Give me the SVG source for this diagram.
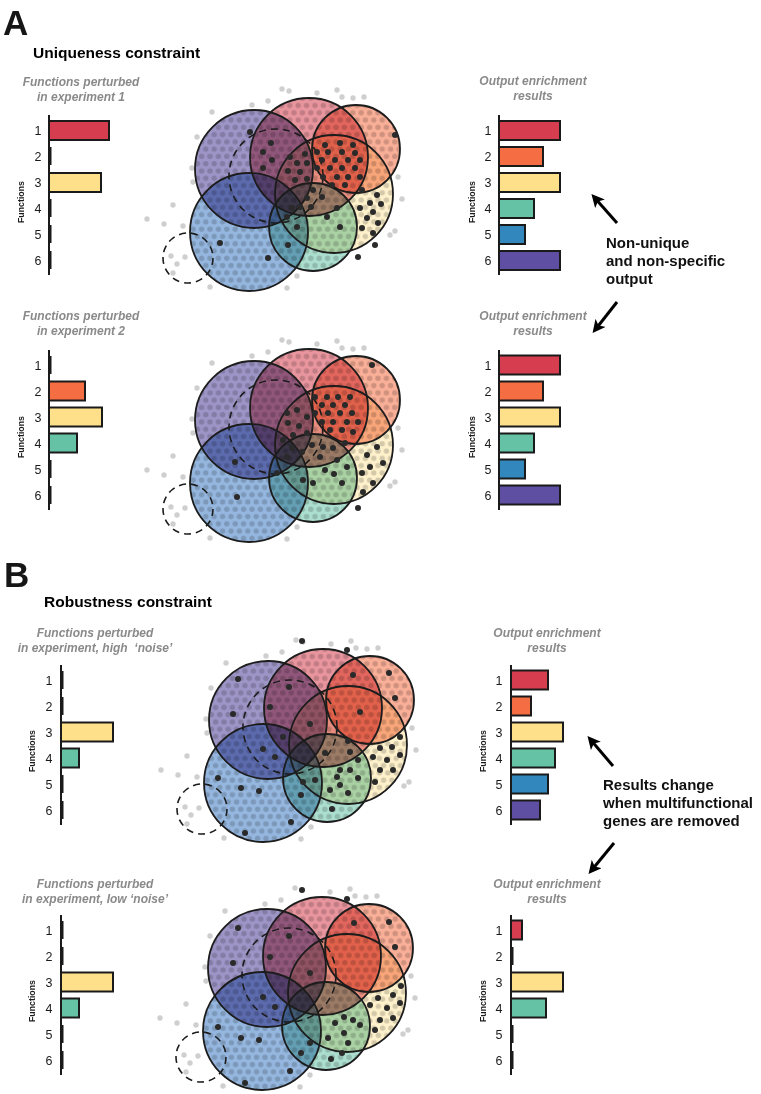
<svg xmlns="http://www.w3.org/2000/svg" xmlns:xlink="http://www.w3.org/1999/xlink" width="761" height="1094" viewBox="0 0 761 1094">
<defs>
<style>
text{font-family:"Liberation Sans",Arial,sans-serif}
.sub{font-size:12px;font-weight:bold;font-style:italic;fill:#8a8a8a;text-anchor:middle}
.num{font-size:12.5px;fill:#1a1a1a;text-anchor:middle}
.fn{font-size:8.8px;font-weight:bold;text-anchor:middle;fill:#1a1a1a}
.hd{font-size:15.5px;font-weight:bold;fill:#000}
.big{font-size:35px;font-weight:bold;fill:#161616}
.ann{font-size:15px;font-weight:bold;fill:#111}
.ax{stroke:#1a1a1a;stroke-width:2}
.bar{stroke:#1a1a1a;stroke-width:2}
.stub{fill:#1a1a1a}
.f1{fill:#d63e50}.f2{fill:#f46d43}.f3{fill:#fee08b}.f4{fill:#66c2a5}.f5{fill:#3288bd}.f6{fill:#5e4fa2}
.vc{mix-blend-mode:multiply}
.out circle{fill:#cfcfcf}
.dk circle{fill:#2a2a2a}
.ol{fill:none;stroke:#1c1c1c;stroke-width:1.8}
.da{fill:none;stroke:#1c1c1c;stroke-width:1.6;stroke-dasharray:7 5}
.arr{stroke:#000;stroke-width:3;fill:none}
</style>
<pattern id="grid" width="8.4" height="14.55" patternUnits="userSpaceOnUse">
<circle cx="4.2" cy="3.6" r="2.7" fill="#000" fill-opacity="0.17"/>
<circle cx="0" cy="10.9" r="2.7" fill="#000" fill-opacity="0.17"/>
<circle cx="8.4" cy="10.9" r="2.7" fill="#000" fill-opacity="0.17"/>
</pattern>
<clipPath id="vclip">
<circle cx="254" cy="169" r="59"/><circle cx="309" cy="157" r="59"/><circle cx="356" cy="149" r="44"/>
<circle cx="334" cy="194" r="59"/><circle cx="249" cy="232" r="59"/><circle cx="313" cy="227" r="44"/>
</clipPath>
<marker id="ah" viewBox="0 0 10 10" refX="7" refY="5" markerWidth="13" markerHeight="13" markerUnits="userSpaceOnUse" orient="auto">
<path d="M0,0 L10,5 L0,10 L2.5,5 z" fill="#000"/>
</marker>
<g id="venn-base">
<g class="out">
<circle cx="282" cy="89" r="2.7"/><circle cx="289" cy="91" r="2.7"/><circle cx="317" cy="93" r="2.7"/><circle cx="337" cy="90" r="2.7"/><circle cx="342" cy="97" r="2.7"/><circle cx="353" cy="98" r="2.7"/><circle cx="364" cy="97" r="2.7"/><circle cx="268" cy="101" r="2.7"/><circle cx="252" cy="105" r="2.7"/><circle cx="212" cy="112" r="2.7"/><circle cx="197" cy="137" r="2.7"/><circle cx="192" cy="168" r="2.7"/><circle cx="193" cy="182" r="2.7"/><circle cx="173" cy="205" r="2.7"/><circle cx="147" cy="219" r="2.7"/><circle cx="164" cy="224" r="2.7"/><circle cx="183" cy="226" r="2.7"/><circle cx="171" cy="256" r="2.7"/><circle cx="177" cy="264" r="2.7"/><circle cx="185" cy="257" r="2.7"/><circle cx="173" cy="273" r="2.7"/><circle cx="210" cy="287" r="2.7"/><circle cx="287" cy="288" r="2.7"/><circle cx="297" cy="276" r="2.7"/><circle cx="390" cy="235" r="2.7"/><circle cx="395" cy="231" r="2.7"/><circle cx="402" cy="199" r="2.7"/><circle cx="398" cy="177" r="2.7"/>
</g>
<circle class="vc" cx="254" cy="169" r="59" fill="#9e95c7"/>
<circle class="vc" cx="309" cy="157" r="59" fill="#e8959e"/>
<circle class="vc" cx="356" cy="149" r="44" fill="#f9af98"/>
<circle class="vc" cx="334" cy="194" r="59" fill="#fef1cb"/>
<circle class="vc" cx="249" cy="232" r="59" fill="#95b7df"/>
<circle class="vc" cx="313" cy="227" r="44" fill="#abdece"/>
<rect x="180" y="90" width="230" height="210" fill="url(#grid)" clip-path="url(#vclip)"/>
<circle class="da" cx="276" cy="176" r="47"/>
<circle class="da" cx="188" cy="258" r="25"/>
<circle class="ol" cx="254" cy="169" r="59"/>
<circle class="ol" cx="309" cy="157" r="59"/>
<circle class="ol" cx="356" cy="149" r="44"/>
<circle class="ol" cx="334" cy="194" r="59"/>
<circle class="ol" cx="249" cy="232" r="59"/>
<circle class="ol" cx="313" cy="227" r="44"/>
</g>
</defs>
<rect width="761" height="1094" fill="#fff"/>

<g id="panel-a-labels">
<text class="big" x="3" y="35">A</text>
<text class="hd" x="33" y="58">Uniqueness constraint</text>
</g>

<!-- A experiment 1: input chart -->
<g id="a1-input">
<text class="sub" x="81" y="86">Functions perturbed</text>
<text class="sub" x="81" y="101">in experiment 1</text>
<text class="fn" transform="translate(24,202) rotate(-90)">Functions</text>
<text class="num" x="38" y="135">1</text><text class="num" x="38" y="161">2</text><text class="num" x="38" y="187">3</text><text class="num" x="38" y="213">4</text><text class="num" x="38" y="239">5</text><text class="num" x="38" y="265">6</text>
<rect class="bar f1" x="49" y="121" width="60" height="19"/>
<rect class="stub" x="49" y="147" width="2.5" height="18"/>
<rect class="bar f3" x="49" y="173" width="52" height="19"/>
<rect class="stub" x="49" y="199" width="2.5" height="18"/>
<rect class="stub" x="49" y="225" width="2.5" height="18"/>
<rect class="stub" x="49" y="251" width="2.5" height="18"/>
<line class="ax" x1="49" y1="115" x2="49" y2="275"/>
</g>

<g id="a1-venn">
<use xlink:href="#venn-base" href="#venn-base"/>
<g class="dk">
<circle cx="250" cy="132" r="3"/><circle cx="395" cy="135" r="3"/><circle cx="271" cy="143" r="3"/><circle cx="263" cy="152" r="3"/><circle cx="272" cy="160" r="3"/><circle cx="263" cy="168" r="3"/><circle cx="325" cy="145" r="3"/><circle cx="340" cy="143" r="3"/><circle cx="353" cy="145" r="3"/><circle cx="317" cy="152" r="3"/><circle cx="328" cy="152" r="3"/><circle cx="342" cy="152" r="3"/><circle cx="355" cy="153" r="3"/><circle cx="322" cy="160" r="3"/><circle cx="335" cy="160" r="3"/><circle cx="348" cy="160" r="3"/><circle cx="360" cy="160" r="3"/><circle cx="317" cy="168" r="3"/><circle cx="330" cy="168" r="3"/><circle cx="342" cy="168" r="3"/><circle cx="355" cy="168" r="3"/><circle cx="323" cy="177" r="3"/><circle cx="337" cy="177" r="3"/><circle cx="348" cy="177" r="3"/><circle cx="360" cy="177" r="3"/><circle cx="332" cy="185" r="3"/><circle cx="345" cy="185" r="3"/><circle cx="290" cy="157" r="3"/><circle cx="305" cy="154" r="3"/><circle cx="297" cy="163" r="3"/><circle cx="307" cy="163" r="3"/><circle cx="288" cy="171" r="3"/><circle cx="300" cy="172" r="3"/><circle cx="307" cy="179" r="3"/><circle cx="295" cy="180" r="3"/><circle cx="313" cy="190" r="3"/><circle cx="322" cy="197" r="3"/><circle cx="307" cy="198" r="3"/><circle cx="300" cy="207" r="3"/><circle cx="311" cy="207" r="3"/><circle cx="292" cy="208" r="3"/><circle cx="362" cy="190" r="3"/><circle cx="377" cy="195" r="3"/><circle cx="370" cy="203" r="3"/><circle cx="381" cy="204" r="3"/><circle cx="360" cy="208" r="3"/><circle cx="373" cy="212" r="3"/><circle cx="367" cy="218" r="3"/><circle cx="378" cy="223" r="3"/><circle cx="362" cy="228" r="3"/><circle cx="373" cy="233" r="3"/><circle cx="375" cy="245" r="3"/><circle cx="358" cy="257" r="3"/><circle cx="337" cy="208" r="3"/><circle cx="327" cy="217" r="3"/><circle cx="340" cy="227" r="3"/><circle cx="287" cy="217" r="3"/><circle cx="297" cy="227" r="3"/><circle cx="288" cy="245" r="3"/><circle cx="220" cy="243" r="3"/><circle cx="268" cy="258" r="3"/>
</g>
</g>

<!-- A experiment 1: output chart -->
<g id="a1-output">
<text class="sub" x="533" y="85">Output enrichment</text>
<text class="sub" x="533" y="100">results</text>
<text class="fn" transform="translate(475,202) rotate(-90)">Functions</text>
<text class="num" x="488" y="135">1</text><text class="num" x="488" y="161">2</text><text class="num" x="488" y="187">3</text><text class="num" x="488" y="213">4</text><text class="num" x="488" y="239">5</text><text class="num" x="488" y="265">6</text>
<rect class="bar f1" x="499" y="121" width="61" height="19"/>
<rect class="bar f2" x="499" y="147" width="44" height="19"/>
<rect class="bar f3" x="499" y="173" width="61" height="19"/>
<rect class="bar f4" x="499" y="199" width="35" height="19"/>
<rect class="bar f5" x="499" y="225" width="26" height="19"/>
<rect class="bar f6" x="499" y="251" width="61" height="19"/>
<line class="ax" x1="499" y1="115" x2="499" y2="275"/>
</g>

<g id="a-note">
<text class="ann" x="606" y="248">Non-unique</text>
<text class="ann" x="606" y="266">and non-specific</text>
<text class="ann" x="606" y="284">output</text>
</g>

<!-- A experiment 2 -->
<g id="a2-input">
<text class="sub" x="81" y="320">Functions perturbed</text>
<text class="sub" x="81" y="335">in experiment 2</text>
<text class="fn" transform="translate(24,437) rotate(-90)">Functions</text>
<text class="num" x="38" y="370">1</text><text class="num" x="38" y="396">2</text><text class="num" x="38" y="422">3</text><text class="num" x="38" y="448">4</text><text class="num" x="38" y="474">5</text><text class="num" x="38" y="500">6</text>
<rect class="stub" x="49" y="356" width="2.5" height="18"/>
<rect class="bar f2" x="49" y="381.5" width="36" height="19"/>
<rect class="bar f3" x="49" y="407.5" width="53" height="19"/>
<rect class="bar f4" x="49" y="433.5" width="28" height="19"/>
<rect class="stub" x="49" y="460" width="2.5" height="18"/>
<rect class="stub" x="49" y="486" width="2.5" height="18"/>
<line class="ax" x1="49" y1="350" x2="49" y2="510"/>
</g>

<g id="a2-venn" transform="translate(0,251)">
<use xlink:href="#venn-base" href="#venn-base"/>
<g class="dk">
<circle cx="372" cy="114" r="3"/><circle cx="315" cy="146" r="3"/><circle cx="327" cy="146" r="3"/><circle cx="338" cy="146" r="3"/><circle cx="350" cy="146" r="3"/><circle cx="322" cy="154" r="3"/><circle cx="333" cy="154" r="3"/><circle cx="345" cy="154" r="3"/><circle cx="315" cy="162" r="3"/><circle cx="328" cy="162" r="3"/><circle cx="340" cy="162" r="3"/><circle cx="352" cy="162" r="3"/><circle cx="322" cy="171" r="3"/><circle cx="333" cy="171" r="3"/><circle cx="347" cy="171" r="3"/><circle cx="358" cy="171" r="3"/><circle cx="330" cy="179" r="3"/><circle cx="342" cy="179" r="3"/><circle cx="353" cy="181" r="3"/><circle cx="287" cy="162" r="3"/><circle cx="297" cy="159" r="3"/><circle cx="307" cy="166" r="3"/><circle cx="288" cy="172" r="3"/><circle cx="299" cy="175" r="3"/><circle cx="307" cy="182" r="3"/><circle cx="293" cy="184" r="3"/><circle cx="283" cy="189" r="3"/><circle cx="292" cy="197" r="3"/><circle cx="302" cy="201" r="3"/><circle cx="312" cy="194" r="3"/><circle cx="287" cy="206" r="3"/><circle cx="323" cy="196" r="3"/><circle cx="333" cy="197" r="3"/><circle cx="345" cy="192" r="3"/><circle cx="320" cy="206" r="3"/><circle cx="337" cy="209" r="3"/><circle cx="347" cy="216" r="3"/><circle cx="325" cy="219" r="3"/><circle cx="334" cy="223" r="3"/><circle cx="342" cy="232" r="3"/><circle cx="313" cy="232" r="3"/><circle cx="303" cy="229" r="3"/><circle cx="377" cy="196" r="3"/><circle cx="367" cy="204" r="3"/><circle cx="383" cy="212" r="3"/><circle cx="370" cy="216" r="3"/><circle cx="362" cy="222" r="3"/><circle cx="373" cy="232" r="3"/><circle cx="363" cy="241" r="3"/><circle cx="358" cy="257" r="3"/><circle cx="237" cy="246" r="3"/><circle cx="235" cy="211" r="3"/><circle cx="277" cy="222" r="3"/>
</g>
</g>

<g id="a2-output">
<text class="sub" x="533" y="320">Output enrichment</text>
<text class="sub" x="533" y="335">results</text>
<text class="fn" transform="translate(475,437) rotate(-90)">Functions</text>
<text class="num" x="488" y="370">1</text><text class="num" x="488" y="396">2</text><text class="num" x="488" y="422">3</text><text class="num" x="488" y="448">4</text><text class="num" x="488" y="474">5</text><text class="num" x="488" y="500">6</text>
<rect class="bar f1" x="499" y="355.5" width="61" height="19"/>
<rect class="bar f2" x="499" y="381.5" width="44" height="19"/>
<rect class="bar f3" x="499" y="407.5" width="61" height="19"/>
<rect class="bar f4" x="499" y="433.5" width="35" height="19"/>
<rect class="bar f5" x="499" y="459.5" width="26" height="19"/>
<rect class="bar f6" x="499" y="485.5" width="61" height="19"/>
<line class="ax" x1="499" y1="350" x2="499" y2="510"/>
</g>

<!-- Panel B -->
<g id="panel-b-labels">
<text class="big" x="4" y="587">B</text>
<text class="hd" x="44" y="607">Robustness constraint</text>
</g>

<g id="b1-input">
<text class="sub" x="95" y="637">Functions perturbed</text>
<text class="sub" x="95" y="652" style="white-space:pre">in experiment, high  ‘noise’</text>
<text class="fn" transform="translate(35,751) rotate(-90)">Functions</text>
<text class="num" x="49" y="685">1</text><text class="num" x="49" y="711">2</text><text class="num" x="49" y="737">3</text><text class="num" x="49" y="763">4</text><text class="num" x="49" y="789">5</text><text class="num" x="49" y="815">6</text>
<rect class="stub" x="61" y="671" width="2.5" height="18"/>
<rect class="stub" x="61" y="697" width="2.5" height="18"/>
<rect class="bar f3" x="61" y="722.5" width="52" height="19"/>
<rect class="bar f4" x="61" y="748.5" width="18" height="19"/>
<rect class="stub" x="61" y="775" width="2.5" height="18"/>
<rect class="stub" x="61" y="801" width="2.5" height="18"/>
<line class="ax" x1="61" y1="665" x2="61" y2="825"/>
</g>

<g id="b1-venn" transform="translate(14,551)">
<use xlink:href="#venn-base" href="#venn-base"/>
<g class="dk">
<circle cx="288" cy="90" r="3"/><circle cx="333" cy="99" r="3"/><circle cx="224" cy="128" r="3"/><circle cx="219" cy="163" r="3"/><circle cx="275" cy="136" r="3"/><circle cx="256" cy="156" r="3"/><circle cx="269" cy="186" r="3"/><circle cx="261" cy="206" r="3"/><circle cx="249" cy="198" r="3"/><circle cx="296" cy="173" r="3"/><circle cx="339" cy="124" r="3"/><circle cx="375" cy="122" r="3"/><circle cx="381" cy="147" r="3"/><circle cx="346" cy="161" r="3"/><circle cx="334" cy="190" r="3"/><circle cx="311" cy="202" r="3"/><circle cx="386" cy="186" r="3"/><circle cx="378" cy="196" r="3"/><circle cx="366" cy="197" r="3"/><circle cx="386" cy="204" r="3"/><circle cx="359" cy="206" r="3"/><circle cx="373" cy="209" r="3"/><circle cx="379" cy="219" r="3"/><circle cx="366" cy="219" r="3"/><circle cx="361" cy="231" r="3"/><circle cx="336" cy="201" r="3"/><circle cx="344" cy="209" r="3"/><circle cx="326" cy="219" r="3"/><circle cx="336" cy="219" r="3"/><circle cx="323" cy="226" r="3"/><circle cx="344" cy="227" r="3"/><circle cx="316" cy="239" r="3"/><circle cx="334" cy="242" r="3"/><circle cx="326" cy="234" r="3"/><circle cx="204" cy="227" r="3"/><circle cx="227" cy="237" r="3"/><circle cx="245" cy="240" r="3"/><circle cx="277" cy="271" r="3"/><circle cx="231" cy="282" r="3"/><circle cx="289" cy="231" r="3"/><circle cx="287" cy="244" r="3"/><circle cx="318" cy="258" r="3"/><circle cx="301" cy="229" r="3"/>
</g>
</g>

<g id="b1-output">
<text class="sub" x="547" y="637">Output enrichment</text>
<text class="sub" x="547" y="652">results</text>
<text class="fn" transform="translate(486,751) rotate(-90)">Functions</text>
<text class="num" x="499" y="685">1</text><text class="num" x="499" y="711">2</text><text class="num" x="499" y="737">3</text><text class="num" x="499" y="763">4</text><text class="num" x="499" y="789">5</text><text class="num" x="499" y="815">6</text>
<rect class="bar f1" x="511" y="670.5" width="37" height="19"/>
<rect class="bar f2" x="511" y="696.5" width="20" height="19"/>
<rect class="bar f3" x="511" y="722.5" width="52" height="19"/>
<rect class="bar f4" x="511" y="748.5" width="44" height="19"/>
<rect class="bar f5" x="511" y="774.5" width="37" height="19"/>
<rect class="bar f6" x="511" y="800.5" width="29" height="19"/>
<line class="ax" x1="511" y1="665" x2="511" y2="825"/>
</g>

<g id="b-note">
<text class="ann" x="603" y="790">Results change</text>
<text class="ann" x="603" y="808">when multifunctional</text>
<text class="ann" x="603" y="826">genes are removed</text>
</g>

<g id="b2-input">
<text class="sub" x="95" y="888">Functions perturbed</text>
<text class="sub" x="95" y="903">in experiment, low ‘noise’</text>
<text class="fn" transform="translate(35,1001) rotate(-90)">Functions</text>
<text class="num" x="49" y="935">1</text><text class="num" x="49" y="961">2</text><text class="num" x="49" y="987">3</text><text class="num" x="49" y="1013">4</text><text class="num" x="49" y="1039">5</text><text class="num" x="49" y="1065">6</text>
<rect class="stub" x="61" y="921" width="2.5" height="18"/>
<rect class="stub" x="61" y="947" width="2.5" height="18"/>
<rect class="bar f3" x="61" y="972.5" width="52" height="19"/>
<rect class="bar f4" x="61" y="998.5" width="18" height="19"/>
<rect class="stub" x="61" y="1025" width="2.5" height="18"/>
<rect class="stub" x="61" y="1051" width="2.5" height="18"/>
<line class="ax" x1="61" y1="915" x2="61" y2="1075"/>
</g>

<g id="b2-venn" transform="translate(13,799)">
<use xlink:href="#venn-base" href="#venn-base"/>
<g class="dk">
<circle cx="289" cy="91" r="3"/><circle cx="334" cy="100" r="3"/><circle cx="225" cy="129" r="3"/><circle cx="220" cy="164" r="3"/><circle cx="276" cy="137" r="3"/><circle cx="257" cy="158" r="3"/><circle cx="297" cy="174" r="3"/><circle cx="341" cy="124" r="3"/><circle cx="376" cy="123" r="3"/><circle cx="382" cy="148" r="3"/><circle cx="250" cy="198" r="3"/><circle cx="262" cy="208" r="3"/><circle cx="388" cy="187" r="3"/><circle cx="380" cy="196" r="3"/><circle cx="365" cy="199" r="3"/><circle cx="357" cy="206" r="3"/><circle cx="374" cy="209" r="3"/><circle cx="387" cy="204" r="3"/><circle cx="380" cy="219" r="3"/><circle cx="367" cy="221" r="3"/><circle cx="362" cy="231" r="3"/><circle cx="331" cy="218" r="3"/><circle cx="340" cy="221" r="3"/><circle cx="322" cy="224" r="3"/><circle cx="347" cy="226" r="3"/><circle cx="331" cy="234" r="3"/><circle cx="315" cy="239" r="3"/><circle cx="335" cy="244" r="3"/><circle cx="329" cy="254" r="3"/><circle cx="205" cy="228" r="3"/><circle cx="228" cy="239" r="3"/><circle cx="246" cy="241" r="3"/><circle cx="277" cy="272" r="3"/><circle cx="232" cy="284" r="3"/><circle cx="318" cy="260" r="3"/><circle cx="288" cy="254" r="3"/><circle cx="297" cy="244" r="3"/>
</g>
</g>

<g id="b2-output">
<text class="sub" x="547" y="888">Output enrichment</text>
<text class="sub" x="547" y="903">results</text>
<text class="fn" transform="translate(486,1001) rotate(-90)">Functions</text>
<text class="num" x="499" y="935">1</text><text class="num" x="499" y="961">2</text><text class="num" x="499" y="987">3</text><text class="num" x="499" y="1013">4</text><text class="num" x="499" y="1039">5</text><text class="num" x="499" y="1065">6</text>
<rect class="bar f1" x="511" y="920.5" width="11" height="19"/>
<rect class="stub" x="511" y="947" width="2.5" height="18"/>
<rect class="bar f3" x="511" y="972.5" width="52" height="19"/>
<rect class="bar f4" x="511" y="998.5" width="35" height="19"/>
<rect class="stub" x="511" y="1025" width="2.5" height="18"/>
<rect class="stub" x="511" y="1051" width="2.5" height="18"/>
<line class="ax" x1="511" y1="915" x2="511" y2="1075"/>
</g>

<g id="connectors">
<line class="arr" x1="617" y1="223" x2="594" y2="197" marker-end="url(#ah)"/>
<line class="arr" x1="617" y1="302" x2="595" y2="330" marker-end="url(#ah)"/>
<line class="arr" x1="613" y1="766" x2="590" y2="739" marker-end="url(#ah)"/>
<line class="arr" x1="614" y1="843" x2="591" y2="871" marker-end="url(#ah)"/>
</g>
</svg>
